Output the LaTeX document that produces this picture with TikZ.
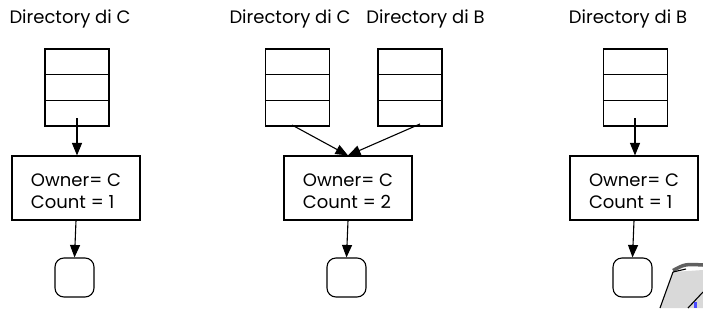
\documentclass[tikz,border=0pt]{standalone}
\usepackage{fontspec}
\setmainfont{Poppins}
\usetikzlibrary{arrows.meta}
\begin{document}
\begin{tikzpicture}[x=1pt,y=-1pt,
  line width=1.1pt,
  title/.style={inner sep=0pt,font=\fontsize{18}{20}\selectfont,anchor=center},
  dirtable/.style={draw,minimum width=64pt,minimum height=77pt,inner sep=0pt},
  entry/.style={draw,minimum width=128pt,minimum height=64pt,inner sep=0pt},
  entrytext/.style={inner sep=0pt,align=left,font=\fontsize{18}{22}\selectfont},
  obj/.style={draw,rounded corners=9pt,minimum width=39pt,minimum height=39pt,inner sep=0pt},
  link/.style={-{Triangle[length=12.5pt,width=10pt]}}
]
\useasboundingbox (0,0) rectangle (703,308);

% directory table with three slots
\newcommand{\dirslots}[1]{%
  \draw (#1.west) ++(0,-12.8) -- ++(64,0);
  \draw (#1.west) ++(0,12.8) -- ++(64,0);}

% --- left: one reference from C ---
\node[title] (t1) at (70,18.5) {Directory di C};
\node[dirtable] (d1) at (77,87.5) {};
\dirslots{d1}
\node[entry] (e1) at (76,188) {};
\node[entrytext] (l1) at ([yshift=-3pt]e1.center) {Owner= C\\Count = 1};
\node[obj] (o1) at (74.5,277.5) {};
\coordinate (s1) at (77,118);
\draw[link] (s1) -- (e1.north -| s1);
\draw[link] (e1.south) -- (o1.north);

% --- middle: references from C and B ---
\node[title] (t2) at (290,18.5) {Directory di C};
\node[title] (t3) at (425.5,18.5) {Directory di B};
\node[dirtable] (d2) at (297.5,87.5) {};
\dirslots{d2}
\node[dirtable] (d3) at (410,87.5) {};
\dirslots{d3}
\node[entry] (e2) at (348,188) {};
\node[entrytext] (l2) at ([yshift=-3pt]e2.center) {Owner= C\\Count = 2};
\node[obj] (o2) at (346.5,277.5) {};
\coordinate (s2) at (292,125);
\coordinate (s3) at (420,124);
\draw[link] (s2) -- (e2.north);
\draw[link] (s3) -- (e2.north);
\draw[link] (e2.south) -- (o2.north);

% --- right: one reference from B ---
\node[title] (t4) at (628,18.5) {Directory di B};
\node[dirtable] (d4) at (635.5,87.5) {};
\dirslots{d4}
\node[entry] (e4) at (634,188) {};
\node[entrytext] (l4) at ([yshift=-3pt]e4.center) {Owner= C\\Count = 1};
\node[obj] (o4) at (632.5,277.5) {};
\coordinate (s4) at (635,118);
\draw[link] (s4) -- (e4.north -| s4);
\draw[link] (e4.south) -- (o4.north);

% corner of a sheet peeking in at the bottom right
\fill[gray!30] (673,272) -- (703,270) -- (703,308) -- (660,308) -- cycle;
\draw[line width=3.5pt,gray!75!black] (673,270.5) .. controls (685,264) .. (703,265);
\draw (673,272) -- (660,308);
\draw (673,272) -- (686,269);
\draw (703,292) -- (688,308);
\fill[blue!70] (694,302) rectangle (697,308);
\end{tikzpicture}
\end{document}
